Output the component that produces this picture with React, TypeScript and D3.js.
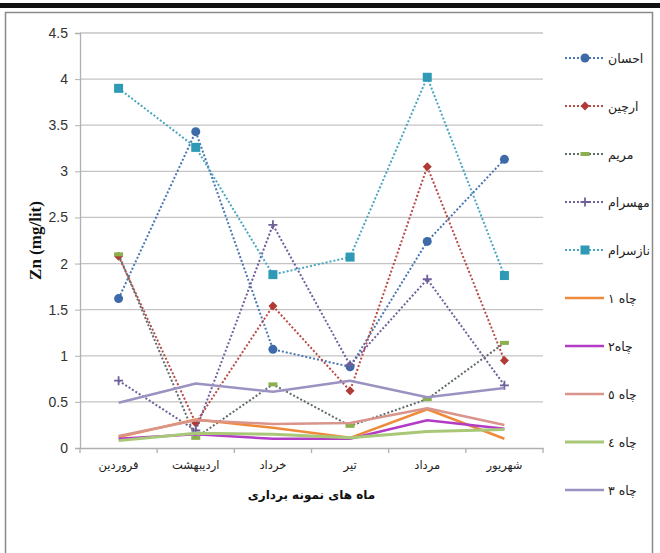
import React, { useEffect, useRef } from 'react';
import * as d3 from 'd3';

// months (x categories)
const months = ['فروردین', 'اردیبهشت', 'خرداد', 'تیر', 'مرداد', 'شهریور'];
const yTicks = [0, 0.5, 1, 1.5, 2, 2.5, 3, 3.5, 4, 4.5];

// dotted series (with markers)
const ehsan = [1.62, 3.43, 1.07, 0.88, 2.24, 3.13];
const archin = [2.08, 0.27, 1.54, 0.62, 3.05, 0.95];
const maryam = [2.1, 0.11, 0.69, 0.24, 0.53, 1.14];
const mahsaram = [0.73, 0.19, 2.42, 0.9, 1.83, 0.68];
const nazsaram = [3.9, 3.26, 1.88, 2.07, 4.02, 1.87];

// solid series (wells)
const well1 = [0.12, 0.31, 0.22, 0.11, 0.42, 0.1];
const well2 = [0.1, 0.15, 0.1, 0.1, 0.3, 0.21];
const well5 = [0.13, 0.3, 0.26, 0.27, 0.43, 0.25];
const well4 = [0.08, 0.16, 0.15, 0.11, 0.18, 0.2];
const well3 = [0.49, 0.7, 0.61, 0.73, 0.55, 0.65];

type Series = {
  name: string;
  values: number[];
  color: string;
  marker: string;
  markerColor: string;
  dotted: boolean;
  width: number;
};

const series: Series[] = [
  { name: 'احسان', values: ehsan, color: '#4a76b4', marker: 'circle', markerColor: '#3d6aa8', dotted: true, width: 2 },
  { name: 'ارچین', values: archin, color: '#b84a47', marker: 'diamond', markerColor: '#b03a36', dotted: true, width: 2 },
  { name: 'مریم', values: maryam, color: '#5f6b6a', marker: 'dash', markerColor: '#8db04f', dotted: true, width: 2 },
  { name: 'مهسرام', values: mahsaram, color: '#6f5f9a', marker: 'plus', markerColor: '#6f5f9a', dotted: true, width: 2 },
  { name: 'نازسرام', values: nazsaram, color: '#4aa6c0', marker: 'square', markerColor: '#2f9ab5', dotted: true, width: 2 },
  { name: 'چاه ۱', values: well1, color: '#ee8a3c', marker: 'none', markerColor: '', dotted: false, width: 2.5 },
  { name: 'چاه۲', values: well2, color: '#b23cc6', marker: 'none', markerColor: '', dotted: false, width: 2.5 },
  { name: 'چاه ٥', values: well5, color: '#d9948c', marker: 'none', markerColor: '', dotted: false, width: 2.5 },
  { name: 'چاه ٤', values: well4, color: '#a8c877', marker: 'none', markerColor: '', dotted: false, width: 3 },
  { name: 'چاه ۳', values: well3, color: '#9c92c2', marker: 'none', markerColor: '', dotted: false, width: 2.5 },
];

const drawMarker = (g: any, kind: string, cx: number, cy: number, color: string) => {
  if (kind === 'circle') {
    g.append('circle').attr('cx', cx).attr('cy', cy).attr('r', 4.5).attr('fill', color);
  } else if (kind === 'square') {
    g.append('rect').attr('x', cx - 4.5).attr('y', cy - 4.5).attr('width', 9).attr('height', 9).attr('fill', color);
  } else if (kind === 'diamond') {
    g.append('path')
      .attr('d', `M${cx},${cy - 4.5}L${cx + 4.5},${cy}L${cx},${cy + 4.5}L${cx - 4.5},${cy}Z`)
      .attr('fill', color);
  } else if (kind === 'dash') {
    g.append('rect').attr('x', cx - 4.5).attr('y', cy - 2).attr('width', 9).attr('height', 4).attr('fill', color);
  } else if (kind === 'plus') {
    g.append('path')
      .attr('d', `M${cx - 4.5},${cy}H${cx + 4.5}M${cx},${cy - 4.5}V${cy + 4.5}`)
      .attr('stroke', color)
      .attr('stroke-width', 1.8);
  }
};

const App: React.FC = () => {
  const svgRef = useRef<SVGSVGElement>(null);

  useEffect(() => {
    if (!svgRef.current) return;
    const svg = d3.select(svgRef.current);
    svg.selectAll('*').remove();

    const left = 80;
    const right = 543;
    const top = 33;
    const bottom = 448;

    // page decoration: thick rule and frame
    svg.append('rect').attr('x', 0).attr('y', 3).attr('width', 660).attr('height', 5).attr('fill', '#111');
    svg
      .append('rect')
      .attr('x', 5.5)
      .attr('y', 12.5)
      .attr('width', 647)
      .attr('height', 560)
      .attr('fill', 'none')
      .attr('stroke', '#8a8a8a')
      .attr('stroke-width', 1.5);

    const x = d3.scaleBand<string>().domain(months).range([left, right]).paddingInner(0).paddingOuter(0);
    const cx = (m: string) => (x(m) as number) + x.bandwidth() / 2;
    const y = d3.scaleLinear().domain([0, 4.5]).range([bottom, top]);

    // gridlines
    svg
      .append('g')
      .selectAll('line')
      .data(yTicks.filter(t => t > 0))
      .join('line')
      .attr('x1', left)
      .attr('x2', right)
      .attr('y1', d => y(d))
      .attr('y2', d => y(d))
      .attr('stroke', '#c4c4c4')
      .attr('stroke-width', 1.3);

    // y axis
    const yAxis = d3.axisLeft(y).tickValues(yTicks).tickSize(5).tickPadding(7).tickFormat(d => String(d));
    const yg = svg.append('g').attr('transform', `translate(${left},0)`).call(yAxis);
    yg.select('.domain').attr('stroke', '#b0b0b0').attr('stroke-width', 1.3);
    yg.selectAll('.tick line').attr('stroke', '#b0b0b0');
    yg.selectAll('.tick text')
      .attr('font-family', '"Liberation Sans Narrow", "Liberation Sans", Arial, sans-serif')
      .attr('font-size', 14)
      .attr('fill', '#333');

    // x axis
    const xAxis = d3.axisBottom(x).tickSize(0).tickPadding(13);
    const xg = svg.append('g').attr('transform', `translate(0,${bottom})`).call(xAxis);
    xg.select('.domain').attr('stroke', '#b0b0b0').attr('stroke-width', 1.3);
    xg.selectAll('.tick text')
      .attr('font-family', '"DejaVu Sans", sans-serif')
      .attr('font-size', 11.5)
      .attr('fill', '#222');
    // boundary ticks
    const bounds = months.map(m => x(m) as number).concat([right]);
    svg
      .append('g')
      .selectAll('line')
      .data(bounds)
      .join('line')
      .attr('x1', d => d)
      .attr('x2', d => d)
      .attr('y1', bottom)
      .attr('y2', bottom + 5)
      .attr('stroke', '#b0b0b0')
      .attr('stroke-width', 1.3);

    // axis titles
    svg
      .append('text')
      .attr('transform', `translate(41,${(top + bottom) / 2}) rotate(-90)`)
      .attr('text-anchor', 'middle')
      .attr('font-family', '"Liberation Serif", "Times New Roman", serif')
      .attr('font-weight', 'bold')
      .attr('font-size', 17)
      .attr('fill', '#111')
      .text('Zn (mg/lit)');

    svg
      .append('text')
      .attr('x', (left + right) / 2)
      .attr('y', 499)
      .attr('text-anchor', 'middle')
      .attr('font-family', '"DejaVu Sans", sans-serif')
      .attr('font-weight', 'bold')
      .attr('font-size', 12)
      .attr('fill', '#111')
      .text('ماه های نمونه برداری');

    // lines
    const line = d3
      .line<number>()
      .x((_, i) => cx(months[i]))
      .y(d => y(d));

    const plot = svg.append('g');
    series.forEach(s => {
      plot
        .append('path')
        .datum(s.values)
        .attr('fill', 'none')
        .attr('stroke', s.color)
        .attr('stroke-width', s.width)
        .attr('stroke-dasharray', s.dotted ? '2,2' : null)
        .attr('stroke-linejoin', 'round')
        .attr('d', line);
      if (s.marker !== 'none') {
        s.values.forEach((v, i) => drawMarker(plot, s.marker, cx(months[i]), y(v), s.markerColor));
      }
    });

    // legend
    const legend = svg.append('g');
    series.forEach((s, i) => {
      const ly = 58 + i * 48;
      const row = legend.append('g');
      row
        .append('line')
        .attr('x1', 565)
        .attr('x2', 604)
        .attr('y1', ly)
        .attr('y2', ly)
        .attr('stroke', s.color)
        .attr('stroke-width', s.width)
        .attr('stroke-dasharray', s.dotted ? '2,2' : null);
      if (s.marker !== 'none') drawMarker(row, s.marker, 585, ly, s.markerColor);
      row
        .append('text')
        .attr('x', 608)
        .attr('y', ly + 5)
        .attr('font-family', '"DejaVu Sans", sans-serif')
        .attr('font-size', 12.5)
        .attr('fill', '#222')
        .text(s.name);
    });
  }, []);

  return (
    <svg
      ref={svgRef}
      width={660}
      height={553}
      style={{ position: 'absolute', left: 0, top: 0, background: '#fff' }}
    />
  );
};

export default App;
